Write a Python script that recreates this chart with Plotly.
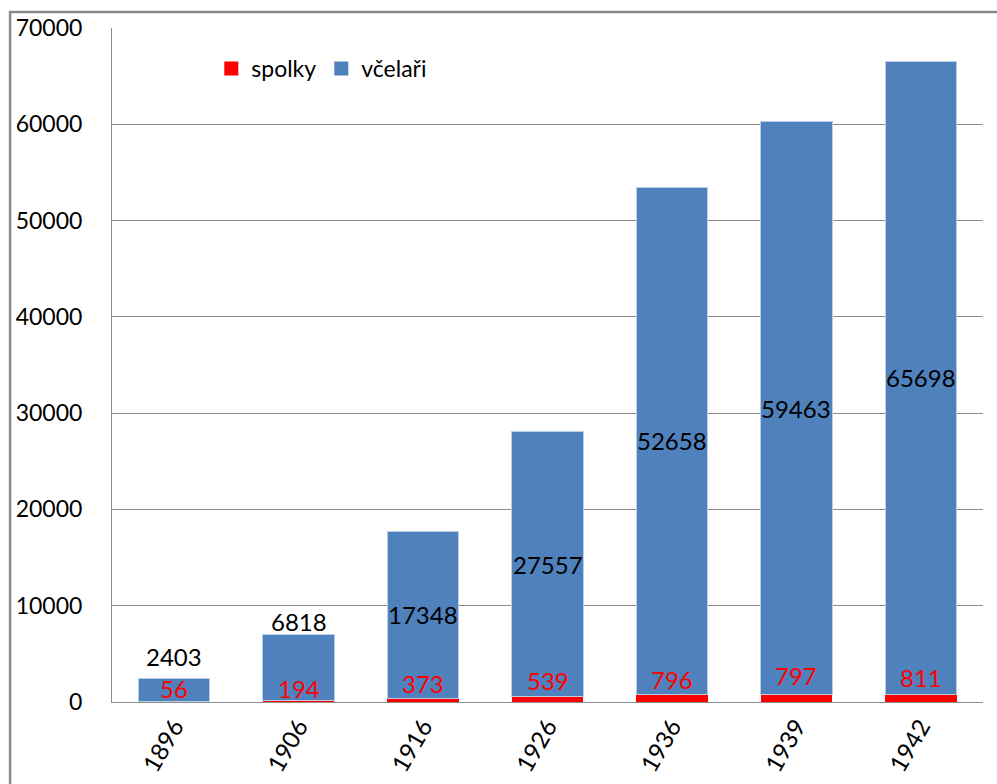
import plotly.graph_objects as go

years = ["1896", "1906", "1916", "1926", "1936", "1939", "1942"]
spolky = [56, 194, 373, 539, 796, 797, 811]
vcelari = [2403, 6818, 17348, 27557, 52658, 59463, 65698]

# label placement styling (pixel offsets)
vcelari_outside = [True, True, False, False, False, False, False]
vcelari_shift = [22, 13, 0, 0, 0, 0, 0]
spolky_shift = [13, 12, 15, 16, 15, 19, 17]

FONT = "Lato"
BLUE = "#4F81BD"
RED = "#FF0000"
GRID = "#8C8C8C"

fig = go.Figure()
fig.add_trace(go.Bar(x=years, y=spolky, name="spolky", showlegend=False,
                     marker=dict(color=RED, line=dict(width=0))))
fig.add_trace(go.Bar(x=years, y=vcelari, name="včelaři", showlegend=False,
                     marker=dict(color=BLUE, line=dict(color="#B9CDE5", width=1))))
# legend entries with larger square swatches
fig.add_trace(go.Scatter(x=[None], y=[None], mode="markers", name="spolky",
                         marker=dict(symbol="square", size=14, color=RED)))
fig.add_trace(go.Scatter(x=[None], y=[None], mode="markers", name="včelaři",
                         marker=dict(symbol="square", size=14, color=BLUE)))

ann = []
for i, yr in enumerate(years):
    if vcelari_outside[i]:
        yv = spolky[i] + vcelari[i]
    else:
        yv = spolky[i] + vcelari[i] / 2
    ann.append(dict(x=i, y=yv, text=str(vcelari[i]), showarrow=False,
                    xref="x", yref="y", yanchor="middle", yshift=vcelari_shift[i],
                    font=dict(family=FONT, size=24, color="#000000")))
    ann.append(dict(x=i, y=spolky[i], text=str(spolky[i]), showarrow=False,
                    xref="x", yref="y", yanchor="middle", yshift=spolky_shift[i],
                    font=dict(family=FONT, size=24, color=RED)))

fig.update_layout(
    width=997, height=784,
    margin=dict(l=112, r=14, t=28, b=82, autoexpand=False),
    paper_bgcolor="white", plot_bgcolor="white",
    barmode="stack", bargap=0.425,
    font=dict(family=FONT, size=23, color="#000000"),
    showlegend=True,
    legend=dict(orientation="h", x=0.114, y=0.94, xanchor="left", yanchor="middle",
                traceorder="normal", font=dict(family=FONT, size=23),
                bgcolor="rgba(0,0,0,0)", itemwidth=30),
    annotations=ann,
    shapes=[dict(type="rect", xref="paper", yref="paper",
                 x0=-0.117, y0=-0.2, x1=1.1, y1=1.0237,
                 line=dict(color="#8A8A8A", width=2.5), layer="below")],
    xaxis=dict(type="category", categoryorder="array", categoryarray=years,
               range=[-0.5, len(years) - 0.5], automargin=False,
               showgrid=False, showline=True, linecolor=GRID,
               linewidth=1, ticks="", tickangle=-60,
               tickfont=dict(family=FONT, size=24)),
    yaxis=dict(range=[0, 70000], dtick=10000, tickformat="d", showgrid=True, gridcolor=GRID,
               gridwidth=1, showline=True, linecolor=GRID, linewidth=1, automargin=False,
               ticks="", zeroline=False, ticklabelstandoff=24,
               tickfont=dict(family=FONT, size=23)),
)

fig.write_html("out.html", config={"displayModeBar": False},
               post_script="document.body.style.margin='0';document.body.style.overflow='hidden';")
